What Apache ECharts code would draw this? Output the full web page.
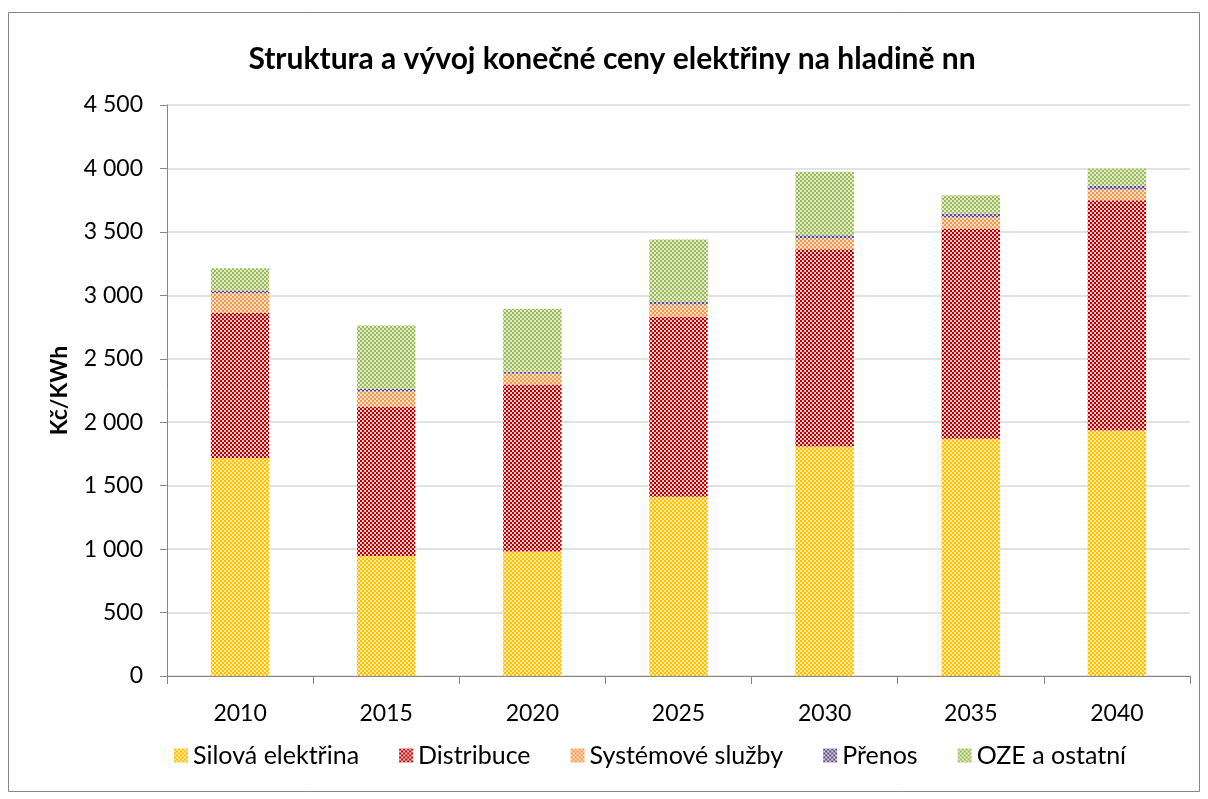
<!DOCTYPE html>
<html>
<head>
<meta charset="utf-8">
<script src="https://cdn.jsdelivr.net/npm/echarts@6/dist/echarts.min.js"></script>
<style>
    html, body { margin: 0; padding: 0; background: #fff; }
    #main { width: 1208px; height: 799px; }
</style>
</head>
<body>
<div id="main"></div>
<script>
// kategorie a hodnoty (Kč/KWh)
let years = ['2010', '2015', '2020', '2025', '2030', '2035', '2040'];
let silova = [1719, 945, 981, 1413, 1808, 1869, 1934];
let distribuce = [1141, 1179, 1316, 1416, 1555, 1657, 1816];
let systemove = [158, 118, 85, 98, 85, 87, 84];
let prenos = [21, 21, 16, 20, 26, 32, 29];
let oze = [174, 500, 497, 493, 499, 144, 137];
let yTicks = [0, 500, 1000, 1500, 2000, 2500, 3000, 3500, 4000, 4500];

let font = 'Lato';

// vzorek - sachovnice 2x2 px
function checker(dark, light) {
    let c = document.createElement('canvas');
    c.width = 4;
    c.height = 4;
    let ctx = c.getContext('2d');
    ctx.fillStyle = light;
    ctx.fillRect(0, 0, 4, 4);
    ctx.fillStyle = dark;
    ctx.fillRect(0, 0, 2, 2);
    ctx.fillRect(2, 2, 2, 2);
    return {image: c, repeat: 'repeat'};
}

let fills = [
    checker('#FFC000', '#FFE8A0'),
    checker('#C00000', '#F6C8C8'),
    checker('#F79646', '#FDE0C8'),
    checker('#604A7B', '#D8D0E4'),
    checker('#9BBB59', '#E2ECCC')
];

let names = ['Silová elektřina', 'Distribuce', 'Systémové služby', 'Přenos', 'OZE a ostatní'];
let values = [silova, distribuce, systemove, prenos, oze];

function fmt(v) {
    return String(v).replace(/\B(?=(\d{3})+(?!\d))/g, ' ');
}

let series = names.map(function (n, i) {
    return {
        name: n,
        type: 'bar',
        stack: 'cena',
        barWidth: '40%',
        itemStyle: {color: fills[i]},
        data: values[i]
    };
});

let option = {
    animation: false,
    backgroundColor: '#fff',
    title: {
        text: 'Struktura a vývoj konečné ceny elektřiny na hladině nn',
        left: 607,
        textAlign: 'center',
        top: 39,
        textStyle: {fontFamily: font, fontWeight: 'bold', fontSize: 30, color: '#000'}
    },
    legend: {
        data: names,
        left: 169,
        width: 1030,
        top: 738,
        icon: 'rect',
        itemWidth: 14,
        itemHeight: 14,
        itemGap: 40,
        textStyle: {fontFamily: font, fontSize: 25, color: '#000'}
    },
    grid: {
        left: 167,
        right: 18,
        top: 105,
        bottom: 123
    },
    xAxis: {
        type: 'category',
        data: years,
        axisLine: {lineStyle: {color: '#868686'}},
        axisTick: {show: true, length: 8, lineStyle: {color: '#868686'}},
        axisLabel: {fontFamily: font, fontSize: 23, color: '#000', margin: 26}
    },
    yAxis: {
        type: 'value',
        min: yTicks[0],
        max: yTicks[yTicks.length - 1],
        interval: 500,
        name: 'Kč/KWh',
        nameLocation: 'middle',
        nameGap: 96,
        nameTextStyle: {fontFamily: font, fontWeight: 'bold', fontSize: 23, color: '#000'},
        axisLine: {show: true, lineStyle: {color: '#868686'}},
        axisTick: {show: true, length: 7, lineStyle: {color: '#868686'}},
        axisLabel: {fontFamily: font, fontSize: 23, color: '#000', margin: 24, formatter: fmt},
        splitLine: {lineStyle: {color: '#D9D9D9', width: 1.5}}
    },
    graphic: [{
        type: 'rect',
        shape: {x: 8.5, y: 12.5, width: 1191, height: 779},
        style: {fill: 'none', stroke: '#868686', lineWidth: 1},
        silent: true
    }],
    series: series
};

echarts.init(document.getElementById('main')).setOption(option);
</script>
</body>
</html>
